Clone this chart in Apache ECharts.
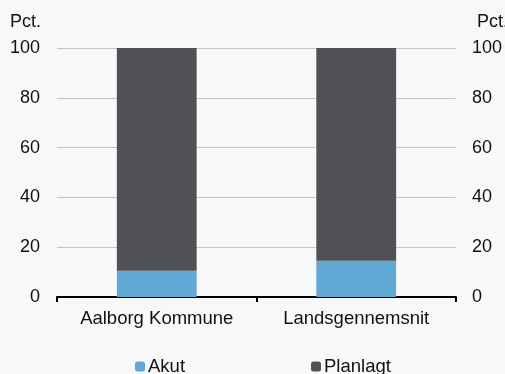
<!DOCTYPE html>
<html>
<head>
<meta charset="utf-8">
<script src="https://cdn.jsdelivr.net/npm/echarts@6/dist/echarts.min.js"></script>
<style>
html,body{margin:0;padding:0;background:#f7f9f9;}
#c{width:505px;height:374px;}
</style>
</head>
<body>
<div id="c"></div>
<script>
const categories = ['Aalborg Kommune', 'Landsgennemsnit'];
const akut = [10.5, 14.6];
const planlagt = [89.5, 85.4];
const yTicks = [0, 20, 40, 60, 80, 100];

const FONT = 'Liberation Sans, Arial, sans-serif';
const chart = echarts.init(document.getElementById('c'), null, {renderer: 'canvas'});
const TXT = '#111';
chart.setOption({
  backgroundColor: '#f7f9f9',
  animation: false,
  grid: {left: 57, right: 44, top: 48, bottom: 77},
  xAxis: {
    type: 'category',
    data: categories,
    axisLine: {lineStyle: {color: '#000', width: 2}},
    axisTick: {show: true, length: 5, lineStyle: {color: '#000', width: 2}},
    axisLabel: {fontSize: 18.5, color: TXT, fontFamily: FONT, margin: 12}
  },
  yAxis: [
    {type: 'value', min: yTicks[0], max: yTicks[yTicks.length - 1], interval: 20,
     axisLine: {show: false}, axisTick: {show: false},
     splitLine: {lineStyle: {color: '#c4c4c4', width: 1}},
     axisLabel: {fontSize: 18, color: TXT, fontFamily: FONT, margin: 17}},
    {type: 'value', min: yTicks[0], max: yTicks[yTicks.length - 1], interval: 20, position: 'right',
     axisLine: {show: false}, axisTick: {show: false}, splitLine: {show: false},
     axisLabel: {fontSize: 18, color: TXT, fontFamily: FONT, margin: 16}}
  ],
  legend: [
    {data: ['Akut'], left: 135, top: 357, padding: 0, itemWidth: 10, itemHeight: 10, itemGap: 0,
     textStyle: {fontSize: 18.5, color: TXT, fontFamily: FONT, padding: [0, 0, 0, -2]}},
    {data: ['Planlagt'], left: 311, top: 357, padding: 0, itemWidth: 10, itemHeight: 10, itemGap: 0,
     textStyle: {fontSize: 18.5, color: TXT, fontFamily: FONT, padding: [0, 0, 0, -2]}}
  ],
  graphic: [
    {type: 'text', left: 10, top: 13, style: {text: 'Pct.', fontSize: 18, fill: TXT, fontFamily: FONT}},
    {type: 'text', left: 477, top: 13, style: {text: 'Pct.', fontSize: 18, fill: TXT, fontFamily: FONT}}
  ],
  series: [
    {name: 'Akut', type: 'bar', stack: 's', data: akut, barWidth: '40%',
     itemStyle: {color: '#62a8d4'}},
    {name: 'Planlagt', type: 'bar', stack: 's', data: planlagt, barWidth: '40%',
     itemStyle: {color: '#4f5157'}}
  ]
});
</script>
</body>
</html>
